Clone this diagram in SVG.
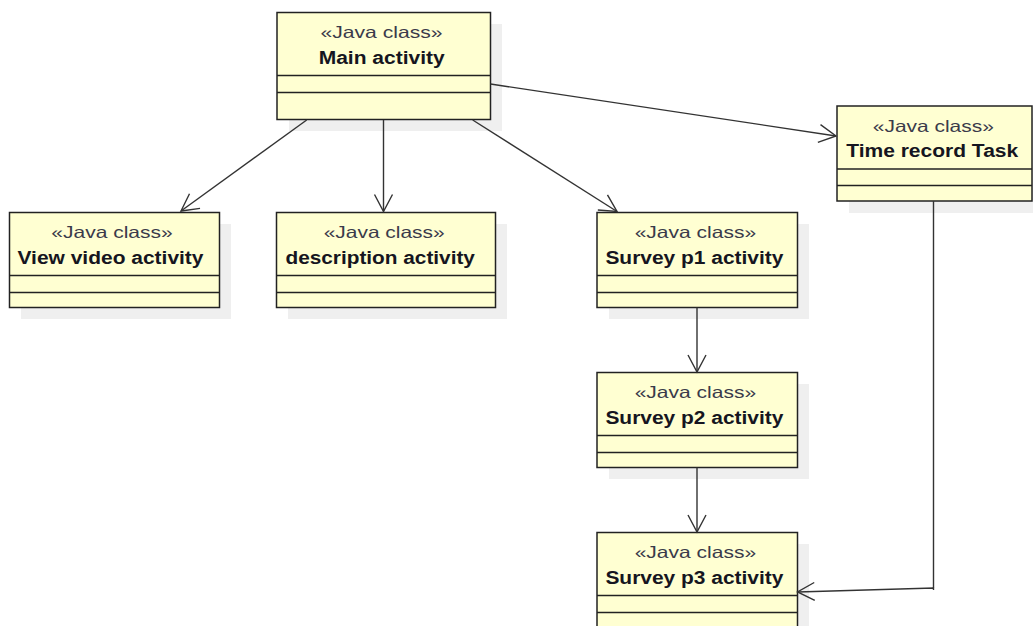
<svg xmlns="http://www.w3.org/2000/svg" width="1033" height="626" viewBox="0 0 1033 626">
  <style>
    .shadow { fill: #efefef; stroke: none; }
    .box { fill: #ffffd2; stroke: #222; stroke-width: 1.5; }
    .sep { stroke: #222; stroke-width: 1.5; }
    .stereo { font-family: "Liberation Sans", Arial, sans-serif; font-size: 16.5px; fill: #3a3a4a; text-anchor: middle; }
    .name { font-family: "Liberation Sans", Arial, sans-serif; font-size: 17.5px; font-weight: bold; fill: #151520; text-anchor: middle; }
    .edge { fill: none; stroke: #333; stroke-width: 1.4; }
  </style>
  <defs>
    <marker id="open" markerUnits="userSpaceOnUse" viewBox="-19 -11 21 22" refX="0" refY="0" markerWidth="21" markerHeight="22" orient="auto">
      <path d="M -17 -9 L 0 0 L -17 9" fill="none" stroke="#333" stroke-width="1.4"/>
    </marker>
  </defs>
  <rect width="1033" height="626" fill="#ffffff"/>

  <!-- Main activity -->
  <g id="main-activity">
    <rect class="shadow" x="289" y="24" width="213" height="107"/>
    <rect class="box" x="277" y="12.5" width="213.5" height="107"/>
    <line class="sep" x1="277" y1="75.5" x2="490.5" y2="75.5"/>
    <line class="sep" x1="277" y1="92.5" x2="490.5" y2="92.5"/>
    <text class="stereo" x="381.5" y="38" textLength="122" lengthAdjust="spacingAndGlyphs">«Java class»</text>
    <text class="name" x="381.7" y="63.5" textLength="126" lengthAdjust="spacingAndGlyphs">Main activity</text>
  </g>

  <!-- View video activity -->
  <g id="view-video-activity">
    <rect class="shadow" x="21" y="224" width="210" height="95"/>
    <rect class="box" x="9.5" y="212.5" width="210" height="95"/>
    <line class="sep" x1="9.5" y1="275.5" x2="219.5" y2="275.5"/>
    <line class="sep" x1="9.5" y1="292.5" x2="219.5" y2="292.5"/>
    <text class="stereo" x="112" y="238" textLength="121.5" lengthAdjust="spacingAndGlyphs">«Java class»</text>
    <text class="name" x="110.5" y="263.5" textLength="186" lengthAdjust="spacingAndGlyphs">View video activity</text>
  </g>

  <!-- description activity -->
  <g id="description-activity">
    <rect class="shadow" x="288" y="224" width="219" height="95"/>
    <rect class="box" x="276.5" y="212.5" width="219" height="95"/>
    <line class="sep" x1="276.5" y1="275.5" x2="495.5" y2="275.5"/>
    <line class="sep" x1="276.5" y1="292.5" x2="495.5" y2="292.5"/>
    <text class="stereo" x="384.2" y="238" textLength="121" lengthAdjust="spacingAndGlyphs">«Java class»</text>
    <text class="name" x="380.2" y="263.5" textLength="189.5" lengthAdjust="spacingAndGlyphs">description activity</text>
  </g>

  <!-- Survey p1 activity -->
  <g id="survey-p1-activity">
    <rect class="shadow" x="609" y="224" width="200" height="95"/>
    <rect class="box" x="597" y="212.5" width="200.5" height="95"/>
    <line class="sep" x1="597" y1="275.5" x2="797.5" y2="275.5"/>
    <line class="sep" x1="597" y1="292.5" x2="797.5" y2="292.5"/>
    <text class="stereo" x="695.4" y="238" textLength="121.5" lengthAdjust="spacingAndGlyphs">«Java class»</text>
    <text class="name" x="694.4" y="263.5" textLength="178" lengthAdjust="spacingAndGlyphs">Survey p1 activity</text>
  </g>

  <!-- Survey p2 activity -->
  <g id="survey-p2-activity">
    <rect class="shadow" x="609" y="384" width="200" height="95"/>
    <rect class="box" x="597" y="372.5" width="200.5" height="95"/>
    <line class="sep" x1="597" y1="435.5" x2="797.5" y2="435.5"/>
    <line class="sep" x1="597" y1="452.5" x2="797.5" y2="452.5"/>
    <text class="stereo" x="695.4" y="398" textLength="121.5" lengthAdjust="spacingAndGlyphs">«Java class»</text>
    <text class="name" x="694.4" y="423.5" textLength="178" lengthAdjust="spacingAndGlyphs">Survey p2 activity</text>
  </g>

  <!-- Survey p3 activity -->
  <g id="survey-p3-activity">
    <rect class="shadow" x="609" y="544" width="200" height="95"/>
    <rect class="box" x="597" y="532.5" width="200.5" height="95"/>
    <line class="sep" x1="597" y1="595.5" x2="797.5" y2="595.5"/>
    <line class="sep" x1="597" y1="612.5" x2="797.5" y2="612.5"/>
    <text class="stereo" x="695.4" y="558" textLength="121.5" lengthAdjust="spacingAndGlyphs">«Java class»</text>
    <text class="name" x="694.4" y="583.5" textLength="178" lengthAdjust="spacingAndGlyphs">Survey p3 activity</text>
  </g>

  <!-- Time record Task -->
  <g id="time-record-task">
    <rect class="shadow" x="849" y="118" width="195" height="95"/>
    <rect class="box" x="837" y="106" width="195" height="95"/>
    <line class="sep" x1="837" y1="169" x2="1032" y2="169"/>
    <line class="sep" x1="837" y1="185.5" x2="1032" y2="185.5"/>
    <text class="stereo" x="933.3" y="131.5" textLength="121" lengthAdjust="spacingAndGlyphs">«Java class»</text>
    <text class="name" x="932.2" y="157" textLength="172" lengthAdjust="spacingAndGlyphs">Time record Task</text>
  </g>

  <!-- Associations -->
  <g id="connectors">
    <line class="edge" x1="306.7" y1="120" x2="181" y2="211" marker-end="url(#open)"/>
    <line class="edge" x1="383.5" y1="120" x2="383.5" y2="211.5" marker-end="url(#open)"/>
    <line class="edge" x1="472.7" y1="120" x2="617" y2="211.5" marker-end="url(#open)"/>
    <line class="edge" x1="490.5" y1="84" x2="836" y2="136" marker-end="url(#open)"/>
    <line class="edge" x1="697" y1="307.5" x2="697" y2="372" marker-end="url(#open)"/>
    <line class="edge" x1="697" y1="467.5" x2="697" y2="532" marker-end="url(#open)"/>
    <polyline class="edge" points="933.5,201 933.5,590 933.5,588 797.5,592" marker-end="url(#open)"/>
  </g>
</svg>
